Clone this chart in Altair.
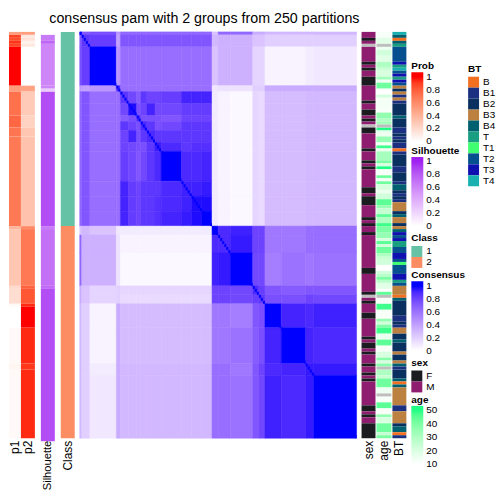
import altair as alt
import pandas as pd

N_ROWS = 136
TITLE = "consensus pam with 2 groups from 250 partitions"
FONT = "Liberation Sans"

# (value, number of rows) runs, top to bottom
p1_runs = [(0.5,1),(0.88,1),(0.85,1),(0.93,1),(0.88,1),(1,13),(0.52,2),(0.72,8),(0.76,4),(0.7,3),(0.68,30),
           (0.4,1),(0.3,19),(0.2,1),(0.18,5),(0.03,1),(0,7),(0.03,12),(0.05,2),(0.03,23)]
p2_runs = [(0.5,1),(0.12,1),(0.15,1),(0.07,1),(0.12,1),(0,13),(0.48,2),(0.28,8),(0.24,4),(0.3,3),(0.32,30),
           (0.6,1),(0.68,19),(0.78,1),(0.82,5),(0.95,1),(1,7),(0.95,12),(0.92,2),(0.95,23)]
sil_runs = [(0,1),(0.65,2),(0.75,1),(0.6,14),(0.6,1),(0.25,1),(0.85,45),(0.65,1),(0.7,19),(0.72,1),(0.85,51)]
class_runs = [("1",65),("2",71)]
sex_runs = [("M",2),("F",1),("M",1),("NA",1),("M",5),("F",1),("M",1),("F",1),("M",2),("F",3),("M",5),("F",1),
            ("M",2),("F",2),("M",1),("F",1),("M",1),("NA",1),("F",2),("M",5),("F",1),("M",3),("F",1),("M",1),
            ("F",1),("M",6),("F",2),("M",1),("F",3),("M",4),("F",1),("M",1),("F",1),("M",2),("F",1),("M",11),
            ("F",2),("M",6),("F",1),("NA",1),("M",1),("F",1),("M",3),("F",2),("M",6),("F",1),("M",1),("F",2),
            ("M",1),("F",1),("M",3),("F",1),("M",2),("F",1),("M",1),("F",1),("M",8),("F",2),("M",1),("F",1),
            ("M",2),("F",5)]
age_runs = [(12,2),(18,2),(None,1),(15,1),(22,2),(18,2),(30,2),(24,1),(20,2),(33,1),(14,1),(42,2),(10,2),(22,1),
            (13,4),(12,1),(36,2),(30,1),(33,1),(None,1),(50,1),(16,1),(15,1),(35,2),(12,1),(48,1),(15,1),(32,3),
            (40,1),(20,1),(50,1),(12,2),(42,1),(12,1),(42,1),(20,2),(15,1),(22,2),(45,2),(35,1),(25,2),(45,1),
            (30,2),(48,1),(40,2),(35,2),(20,1),(45,1),(22,1),(42,2),(30,1),(25,1),(22,2),(10,2),(22,1),(28,1),
            (40,1),(28,1),(18,2),(10,1),(45,1),(None,1),(12,2),(48,2),(12,3),(35,1),(22,1),(40,1),(48,2),(15,2),
            (45,2),(12,2),(20,2),(38,1),(20,1),(38,1),(None,1),(30,2),(25,1),(42,3),(15,2),(None,1),(12,2),(45,2),
            (12,2),(35,1),(20,2),(42,3),(25,1),(40,1)]
bt_runs = [("T4",1),("B4",1),("B",1),("B4",1),("T",1),("T2",5),("T3",1),("T",1),("T4",1),("T2",1),("T3",1),("T",1),
           ("T3",1),("T2",1),("B3",1),("B2",1),("B3",1),("B1",1),("B3",1),("B1",1),("B2",4),("B4",1),("B2",3),("B1",2),
           ("B2",1),("B1",1),("B2",1),("B1",2),("B",1),("B1",1),("B2",4),("B1",2),("B2",3),("B1",1),("B4",2),("B2",1),
           ("B1",1),("B2",1),("B1",1),("B3",3),("B2",1),("B4",1),("B3",2),("B2",1),("B3",1),("B4",1),("T3",1),("T2",1),
           ("T3",1),("T",2),("T2",2),("T3",2),("T2",1),("T1",1),("T2",3),("T3",2),("T",1),("T2",1),("B3",3),("B",1),
           ("B4",1),("B2",5),("B1",2),("B2",1),("B1",1),("B3",2),("B2",2),("B4",1),("B2",3),("B3",1),("B2",2),("B3",1),
           ("B4",1),("B1",1),("B2",3),("B4",1),("B",1),("B4",1),("B3",6),("B1",2),("B3",4),("B2",1),("B4",2),("B",1),("B1",1)]

# consensus matrix: block edges (row numbers) and upper triangle of block values
seg_edges = [0,1,5,18,20,24,28,30,33,37,40,50,55,60,65,68,74,85,88,91,99,111,115,136]
g2_b = [.08,.05,.03,.17,.15,.28,.28,.3,.3]
upper = [
 [1,.72,.75,.45]+[.65]*10+[.25,.65,.65,.35,.35,.3,.3,.3,.3],
 [.85,.82,.4]+[.72]*10+[.3,.33,.33,.25,.25,.2,.2,.2,.2],
 [1,.45]+[.62]*10+[.25,.33,.33,.18,.18,.05,.05,.08,.1],
 [.9]+[.62]*10+[.1,.12,.12,.2,.2,.35,.35,.35,.35],
 [.85,.78,.7,.85,.8,.8,.82,.92,.92,.92]+g2_b,
 [.98,.75,.8,.92,.78,.78,.83,.83,.83]+g2_b,
 [.9,.75,.75,.75,.72,.8,.8,.8]+g2_b,
 [.9,.85,.75,.78,.85,.85,.85]+g2_b,
 [.9,.85,.85,.85,.85,.85]+g2_b,
 [.95,.9,.85,.88,.88]+g2_b,
 [1,.9,.9,.92]+g2_b,
 [.93,.93,.95]+g2_b,
 [.98,.98]+g2_b,
 [1]+g2_b,
 [1,.9,.93,.8,.8,.58,.58,.62,.62],
 [.9,.95,.8,.8,.58,.58,.62,.62],
 [1,.78,.78,.55,.6,.58,.6],
 [.9,.82,.72,.7,.72,.72],
 [.85,.75,.75,.8,.78],
 [1,.92,.9,.93],
 [1,.92,.9],
 [.95,.95],
 [1],
]

bt_names = ["B","B1","B2","B3","B4","T","T1","T2","T3","T4"]
bt_colors = ["#F37021","#1B3080","#0A3060","#BC8040","#006070","#1A9E82","#40FF70","#075090","#1010B0","#1AB0B0"]
sex_names = ["F","M","NA"]
sex_colors = ["#1A1C20","#8F1D6F","#BEBEBE"]
class_names = ["1","2"]
class_colors = ["#66C2A5","#FC8D62"]
ticks01 = [0,0.2,0.4,0.6,0.8,1]
age_ticks = [10,20,30,40,50]

M01 = 4.5 / 65  # legend margin, so that vega centres the end labels on their ticks
MAGE = 4.5 / 54 * 40


def runs_df(runs, name):
    rows, k = [], 0
    for v, n in runs:
        rows.append({"k": k, "k2": k + n, "v": v, "name": name})
        k += n
    return pd.DataFrame(rows)


Y = alt.Y("k:Q", scale=alt.Scale(domain=[N_ROWS, 0]), axis=None)
Y2 = alt.Y2("k2:Q")


def x_axis(name, size=12):
    return alt.X("name:N", title=None, axis=alt.Axis(labelAngle=-90, labelFontSize=size, labelFont=FONT, labelColor="black",
                 ticks=False, domain=False, labelPadding=2, labelAlign="right", labelBaseline="middle"),
                 scale=alt.Scale(domain=[name]))


def grad_legend(title, x, y, values, length=74):
    return alt.Legend(title=title, orient="none", legendX=x, legendY=y, type="gradient", values=values,
                      gradientLength=length, gradientThickness=12, gradientStrokeWidth=0, offset=0, padding=0,
                      titleFont=FONT, titleFontSize=10, titleFontWeight="bold", titleColor="black", titlePadding=1,
                      labelFont=FONT, labelFontSize=10, labelColor="black", labelOffset=3, labelOverlap=False, tickCount=6,
                      labelExpr="'' + datum.value", labelBaseline="middle")


def sym_legend(title, x, y, values=None, columns=1):
    kw = {"values": values} if values else {}
    return alt.Legend(title=title, orient="none", legendX=x, legendY=y, type="symbol", symbolType="square",
                      symbolSize=121, symbolStrokeWidth=0, symbolOpacity=1, rowPadding=0, offset=0, padding=0, columns=columns,
                      titleFont=FONT, titleFontSize=10, titleFontWeight="bold", titleColor="black", titlePadding=3,
                      labelFont=FONT, labelFontSize=10, labelColor="black", labelOffset=4, **kw)


def panel(runs, name, width, color, size=12):
    return alt.Chart(runs_df(runs, name)).mark_rect().encode(x=x_axis(name, size), y=Y, y2=Y2, color=color).properties(width=width, height=408)


def gap(width):
    return alt.Chart(pd.DataFrame({"k": [0]})).mark_rect(opacity=0).encode(
        x=alt.value(0), y=alt.value(0)).properties(width=width, height=408)


def lab_scale(top, lo=0, hi=1, m=M01):
    return alt.Scale(domain=[lo - m, lo, hi, hi + m], range=["#FFFFFF", "#FFFFFF", top, top], interpolate="lab")


prob_scale = lab_scale("#FF0000")
p1 = panel(p1_runs, "p1", 12, alt.Color("v:Q", scale=prob_scale, legend=grad_legend("Prob", 404, 29.5, ticks01)))
p2 = panel(p2_runs, "p2", 14, alt.Color("v:Q", scale=prob_scale, legend=None))
sil = panel(sil_runs, "Silhouette", 14, alt.Color("v:Q", scale=lab_scale("#A020F0"), legend=grad_legend("Silhouette", 372, 114.5, ticks01)), size=11.2)
cls = panel(class_runs, "Class", 14, alt.Color("v:N", scale=alt.Scale(domain=class_names, range=class_colors),
                                               legend=sym_legend("Class", 352, 202)))

# consensus heat map
cells = []
for i, row in enumerate(upper):
    for off, v in enumerate(row):
        j = i + off
        cells.append({"x": seg_edges[j], "x2": seg_edges[j + 1], "y": seg_edges[i], "y2": seg_edges[i + 1], "v": v})
        if i != j:
            cells.append({"x": seg_edges[i], "x2": seg_edges[i + 1], "y": seg_edges[j], "y2": seg_edges[j + 1], "v": v})
cells = pd.DataFrame(cells)
diag = pd.DataFrame({"x": range(N_ROWS), "x2": range(1, N_ROWS + 1), "y": range(N_ROWS), "y2": range(1, N_ROWS + 1), "v": [1] * N_ROWS})

cons_scale = lab_scale("#0000FF")
cons_legend = grad_legend("Consensus", 333, 239.5, ticks01)
XM = alt.X("x:Q", scale=alt.Scale(domain=[0, N_ROWS]), axis=None)
YM = alt.Y("y:Q", scale=alt.Scale(domain=[N_ROWS, 0]), axis=None)
blocks = alt.Chart(cells).mark_rect(strokeWidth=0.5).encode(
    x=XM, x2="x2:Q", y=YM, y2="y2:Q",
    color=alt.Color("v:Q", scale=cons_scale, legend=cons_legend),
    stroke=alt.Stroke("v:Q", scale=cons_scale, legend=None))
diagonal = alt.Chart(diag).mark_rect().encode(
    x=XM, x2="x2:Q", y=YM, y2="y2:Q",
    color=alt.Color("v:Q", scale=cons_scale, legend=cons_legend))
matrix = alt.layer(blocks, diagonal).properties(width=278, height=408)

sex = panel(sex_runs, "sex", 14, alt.Color("v:N", scale=alt.Scale(domain=sex_names, range=sex_colors),
                                           legend=sym_legend("sex", 50, 327, values=["F", "M"])))
age_df = runs_df(age_runs, "age")
age_main = alt.Chart(age_df[age_df.v.notna()]).mark_rect().encode(
    x=x_axis("age"), y=Y, y2=Y2,
    color=alt.Color("v:Q", scale=lab_scale("#1FFF85", 10, 50, MAGE), legend=grad_legend("age", 35, 364.5, age_ticks, 63)))
age_na = alt.Chart(age_df[age_df.v.isna()]).mark_rect(color="#BEBEBE").encode(x=x_axis("age"), y=Y, y2=Y2)
age = alt.layer(age_main, age_na).properties(width=15, height=408)
bt = panel(bt_runs, "BT", 14, alt.Color("v:N", scale=alt.Scale(domain=bt_names, range=bt_colors),
                                         legend=sym_legend("BT", 76, 32)))

chart = alt.hconcat(p1, p2, gap(6), sil, gap(6), cls, gap(5), matrix, gap(5), sex, gap(1), age, gap(1), bt,
                    spacing=0, bounds="flush").properties(
    title=alt.TitleParams(TITLE, anchor="start", dx=41, font=FONT, fontSize=14.3, fontWeight="normal", color="black", offset=5),
    padding={"left": 0, "top": 3, "right": 0, "bottom": 0},
).configure_view(strokeWidth=0)

chart.save("out.html", embed_options={"renderer": "svg", "actions": False})
